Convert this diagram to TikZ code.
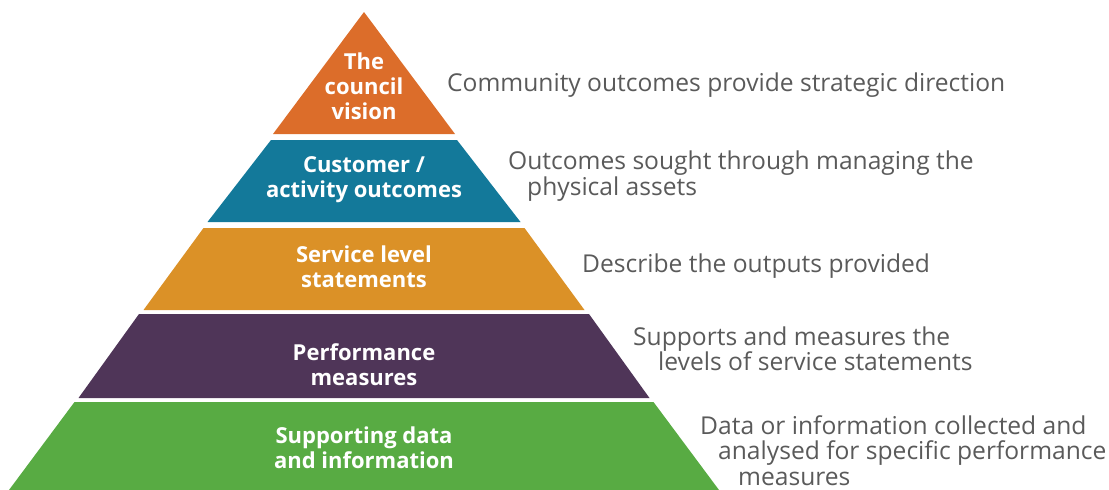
\documentclass[tikz,border=0pt]{standalone}
\usepackage{fontspec}
\setmainfont{Open Sans}
\definecolor{visionc}{HTML}{DC6D2A}
\definecolor{outcomec}{HTML}{13799A}
\definecolor{servicec}{HTML}{DB9127}
\definecolor{perfc}{HTML}{4F3558}
\definecolor{datac}{HTML}{58AB43}
\definecolor{notec}{HTML}{5A5A5A}
\begin{document}
\begin{tikzpicture}[x=1pt,y=-1pt,
  tier/.style={font=\bfseries\fontsize{22}{25}\selectfont, text=white, align=center, inner sep=0pt},
  note/.style={font=\fontsize{24.6}{25.5}\selectfont, text=notec, align=left, anchor=base west, inner sep=0pt}]
\useasboundingbox (0,0) rectangle (1109,490);

% pyramid tiers, stacked with thin white gaps
\fill[visionc]  (364,12) -- (455,134) -- (273,134) -- cycle;
\fill[outcomec] (271,140) -- (457,140) -- (520.5,222) -- (207.5,222) -- cycle;
\fill[servicec] (203.5,228) -- (524.5,228) -- (584.5,310) -- (143.5,310) -- cycle;
\fill[perfc]    (139,314) -- (589,314) -- (649.5,398) -- (78.5,398) -- cycle;
\fill[datac]    (74.5,402) -- (653.5,402) -- (719,490) -- (9,490) -- cycle;

% tier labels
\node[tier] (vision)  at (364,86)    {The\\council\\vision};
\node[tier] (outcome) at (364,180)   {Customer /\\activity outcomes};
\node[tier] (service) at (364,266.5) {Service level\\statements};
\node[tier] (perf)    at (364,364.5) {Performance\\measures};
\node[tier] (data)    at (364,448)   {Supporting data\\and information};

% descriptions to the right (anchored on the baseline of the last line)
\node[note] (visionnote)  at (447,91.5) {Community outcomes provide strategic direction};
\node[note] (outcomenote) at (508,195) {Outcomes sought through managing the\\\hspace*{19pt}physical assets};
\node[note] (servicenote) at (582,272) {Describe the outputs provided};
\node[note] (perfnote)    at (633,370.5) {Supports and measures the\\\hspace*{25pt}levels of service statements};
\node[note] (datanote)    at (700,485) {Data or information collected and\\\hspace*{18pt}analysed for specific performance\\\hspace*{38pt}measures};
\end{tikzpicture}
\end{document}
